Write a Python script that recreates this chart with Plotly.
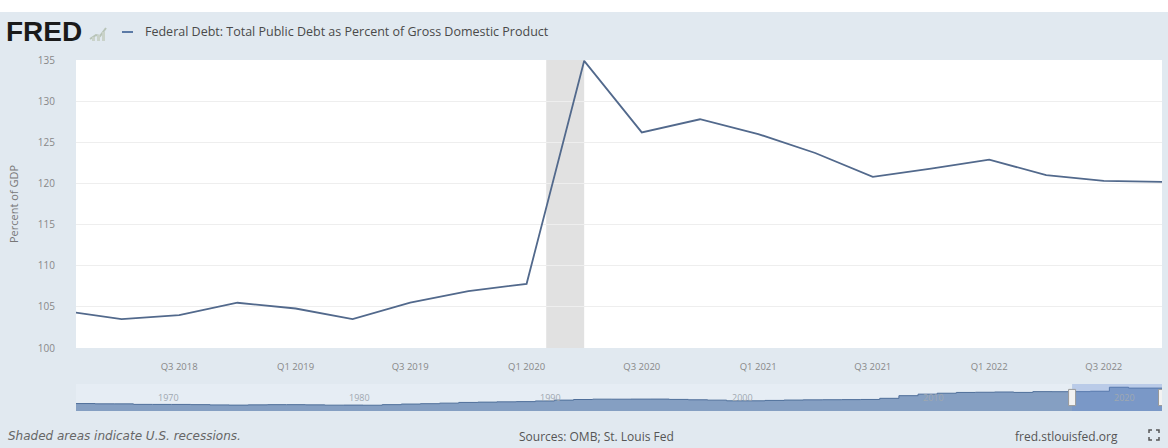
import plotly.graph_objects as go

# ---------------- data ----------------
quarters = ["2018-01-01", "2018-04-01", "2018-07-01", "2018-10-01",
            "2019-01-01", "2019-04-01", "2019-07-01", "2019-10-01",
            "2020-01-01", "2020-04-01", "2020-07-01", "2020-10-01",
            "2021-01-01", "2021-04-01", "2021-07-01", "2021-10-01",
            "2022-01-01", "2022-04-01", "2022-07-01", "2022-10-01"]
debt_pct = [104.5, 103.5, 104.0, 105.5, 104.8, 103.5, 105.5, 106.9,
            107.8, 134.9, 126.2, 127.8, 126.0, 123.7, 120.8, 121.8,
            122.9, 121.0, 120.3, 120.2]

view_start = "2018-01-19"
view_end = "2022-10-01"

tick_dates = ["2018-07-01", "2019-01-01", "2019-07-01", "2020-01-01",
              "2020-07-01", "2021-01-01", "2021-07-01", "2022-01-01",
              "2022-07-01"]
tick_labels = ["Q3 2018", "Q1 2019", "Q3 2019", "Q1 2020", "Q3 2020",
               "Q1 2021", "Q3 2021", "Q1 2022", "Q3 2022"]
y_ticks = [100, 105, 110, 115, 120, 125, 130, 135]

recession_start = ["2020-02-01"]
recession_end = ["2020-04-01"]

# navigator (full history, annual approximations)
nav_years = list(range(1966, 2023))
nav_values = [40.0, 38.5, 38.3, 35.5, 35.4, 35.3, 34.2, 32.6, 31.6, 33.0,
              34.0, 34.0, 32.9, 31.3, 31.7, 31.0, 34.1, 37.3, 39.2, 42.2,
              46.0, 47.7, 49.2, 50.4, 53.8, 58.5, 61.7, 63.6, 63.4, 63.9,
              64.0, 62.2, 60.3, 58.3, 54.8, 54.7, 56.8, 58.8, 60.0, 60.6,
              61.1, 62.0, 68.1, 82.3, 90.5, 95.5, 99.6, 100.7, 102.1, 99.8,
              104.0, 103.7, 104.0, 106.0, 127.5, 123.0, 121.0]
nav_dates = [f"{y}-01-01" for y in nav_years[:-1]] + [view_end]
nav_label_years = [1970, 1980, 1990, 2000, 2010, 2020]

series_name = "Federal Debt: Total Public Debt as Percent of Gross Domestic Product"

# ---------------- geometry helpers ----------------
W, H = 1168, 448
def px(x):
    return x / W
def py(y):
    return 1 - y / H

BG = "#e1e9f0"
LINE = "#52698c"
FONT = "Open Sans"

fig = go.Figure()

fig.add_trace(go.Scatter(
    x=quarters, y=debt_pct, mode="lines", name=series_name,
    line=dict(color=LINE, width=1.8), xaxis="x", yaxis="y",
    hoverinfo="x+y", showlegend=False))

fig.add_trace(go.Scatter(
    x=nav_dates, y=nav_values, mode="lines", line_shape="hv",
    fill="tozeroy", fillcolor="rgba(69,106,160,0.6)",
    line=dict(color="#4f6f9a", width=1), xaxis="x2", yaxis="y2",
    hoverinfo="skip", showlegend=False))

shapes = []
# white strip at top of the page
shapes.append(dict(type="rect", xref="paper", yref="paper", x0=0, x1=1,
                   y0=py(12), y1=1, fillcolor="white", line_width=0, layer="below"))
# navigator background (same tone as page)
shapes.append(dict(type="rect", xref="x2 domain", yref="y2 domain", x0=0, x1=1,
                   y0=0, y1=1, fillcolor="#e6edf4", line_width=0, layer="below"))
# recession shading
for s, e in zip(recession_start, recession_end):
    shapes.append(dict(type="rect", xref="x", yref="y domain", x0=s, x1=e,
                       y0=0, y1=1, fillcolor="#e1e1e1", line_width=0, layer="below"))
# legend line sample
shapes.append(dict(type="line", xref="paper", yref="paper", x0=px(122), x1=px(133),
                   y0=py(32), y1=py(32), line=dict(color="#5b7aa6", width=2)))
# small FRED chart icon
shapes.append(dict(type="path", xref="paper", yref="paper",
                   path=f"M {px(90)},{py(39)} L {px(96)},{py(35)} L {px(100)},{py(36)} L {px(106)},{py(28)}",
                   line=dict(color="#b8c4b8", width=2)))
for bx, bh in [(92, 4), (97, 6), (102, 9)]:
    shapes.append(dict(type="rect", xref="paper", yref="paper", x0=px(bx), x1=px(bx + 3),
                       y0=py(41), y1=py(41 - bh), fillcolor="#c9d2c9", line_width=0))
# navigator selection mask
shapes.append(dict(type="rect", xref="x2", yref="y2 domain", x0=view_start, x1=view_end,
                   y0=0, y1=1, fillcolor="rgba(102,140,210,0.35)", line_width=0))
# navigator handles
for xa in [view_start, view_end]:
    shapes.append(dict(type="rect", xref="x2", yref="y2 domain", xsizemode="pixel",
                       xanchor=xa, x0=-3.5, x1=3.5, y0=0.2, y1=0.8,
                       fillcolor="#f2f2f2", line=dict(color="#999999", width=1)))
# fullscreen icon
cx, cy, r, a = 1154, 435, 5, 3
for sx, sy in [(-1, -1), (1, -1), (-1, 1), (1, 1)]:
    x0, y0 = cx + sx * r, cy + sy * r
    shapes.append(dict(type="path", xref="paper", yref="paper",
                       path=f"M {px(x0)},{py(y0 - sy * a)} L {px(x0)},{py(y0)} L {px(x0 - sx * a)},{py(y0)}",
                       line=dict(color="#555555", width=1.5)))

annotations = []
annotations.append(dict(text="<b>FRED</b>", xref="paper", yref="paper", x=px(4), y=py(32),
                        xanchor="left", yanchor="middle", showarrow=False,
                        font=dict(family="Liberation Sans", size=28, color="#1a1a1a")))
annotations.append(dict(text=series_name, xref="paper", yref="paper", x=px(143), y=py(32),
                        xanchor="left", yanchor="middle", showarrow=False,
                        font=dict(family=FONT, size=12.5, color="#4a4a4a")))
annotations.append(dict(text="Percent of GDP", xref="paper", yref="paper", x=px(14), y=py(204),
                        xanchor="center", yanchor="middle", textangle=-90, showarrow=False,
                        font=dict(family=FONT, size=11, color="#777777")))
annotations.append(dict(text="<i>Shaded areas indicate U.S. recessions.</i>", xref="paper", yref="paper",
                        x=px(6), y=py(436), xanchor="left", yanchor="middle", showarrow=False,
                        font=dict(family="DejaVu Sans", size=12, color="#666666")))
annotations.append(dict(text="Sources: OMB; St. Louis Fed", xref="paper", yref="paper",
                        x=px(596), y=py(436), xanchor="center", yanchor="middle", showarrow=False,
                        font=dict(family=FONT, size=12, color="#555555")))
annotations.append(dict(text="fred.stlouisfed.org", xref="paper", yref="paper",
                        x=px(1120), y=py(436), xanchor="right", yanchor="middle", showarrow=False,
                        font=dict(family=FONT, size=12, color="#555555")))
for yr in nav_label_years:
    annotations.append(dict(text=str(yr), xref="x2", yref="y2 domain", x=f"{yr}-01-01", y=0.5,
                            xanchor="left", yanchor="middle", xshift=3, showarrow=False,
                            font=dict(family=FONT, size=9, color="#a0a8b0")))

fig.update_layout(
    width=W, height=H,
    margin=dict(l=0, r=0, t=0, b=0),
    paper_bgcolor=BG, plot_bgcolor="white",
    font=dict(family=FONT),
    showlegend=False,
    xaxis=dict(domain=[px(76), px(1162)], type="date", range=[view_start, view_end],
               tickvals=tick_dates, ticktext=tick_labels, showgrid=False, zeroline=False,
               showline=False, ticks="", ticklabelstandoff=11,
               tickfont=dict(family=FONT, size=9.5, color="#888888"), anchor="y",
               automargin=False, fixedrange=True),
    yaxis=dict(domain=[py(348), py(60)], range=[100, 135], tickvals=y_ticks,
               showgrid=True, gridcolor="#eeeeee", gridwidth=1, zeroline=False,
               showline=False, ticks="", ticklabelstandoff=20,
               tickfont=dict(family=FONT, size=10, color="#888888"), anchor="x",
               automargin=False, fixedrange=True),
    xaxis2=dict(domain=[px(76), px(1162)], type="date", range=["1966-01-01", view_end],
                showticklabels=False, showgrid=False, zeroline=False, showline=False,
                anchor="y2", automargin=False, fixedrange=True),
    yaxis2=dict(domain=[py(411), py(384)], range=[0, 145], showticklabels=False,
                showgrid=False, zeroline=False, showline=False, anchor="x2",
                automargin=False, fixedrange=True),
    shapes=shapes, annotations=annotations,
)

fig.write_html("out.html")
